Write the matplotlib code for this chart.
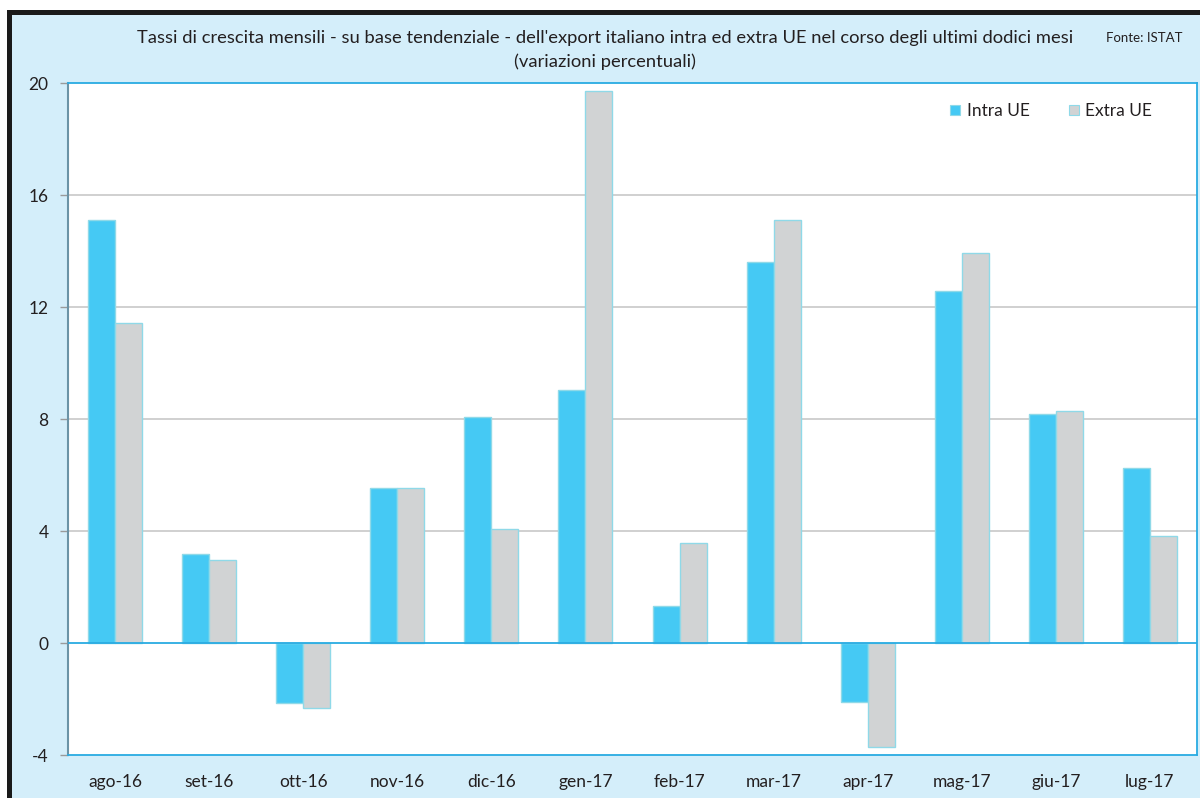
import matplotlib
matplotlib.use("Agg")
import matplotlib.pyplot as plt
from matplotlib.patches import Rectangle
from matplotlib.lines import Line2D
import numpy as np

categories = ["ago-16", "set-16", "ott-16", "nov-16", "dic-16", "gen-17",
              "feb-17", "mar-17", "apr-17", "mag-17", "giu-17", "lug-17"]
intra_ue = [15.1, 3.17, -2.15, 5.54, 8.07, 9.02, 1.32, 13.61, -2.1, 12.58, 8.17, 6.24]
extra_ue = [11.43, 2.95, -2.32, 5.54, 4.08, 19.71, 3.58, 15.1, -3.7, 13.92, 8.27, 3.82]
yticks = [-4, 0, 4, 8, 12, 16, 20]

FONT = "Lato"
BG = "#d4eefa"
C_INTRA = "#45c9f4"
C_EXTRA = "#d1d3d4"
EDGE = "#8fd9e8"
BLUE = "#29abe2"

W, H = 1200, 798
fig = plt.figure(figsize=(W / 100, H / 100), dpi=100)
fig.patch.set_facecolor("white")

# light blue panel and black frame
fig.add_artist(Rectangle((7 / W, 0), 1 - 7 / W, 1 - 10 / H, transform=fig.transFigure,
                         facecolor=BG, edgecolor="none", zorder=0))
fig.add_artist(Rectangle((7 / W, 1 - 15 / H), 1 - 7 / W, 5 / H, transform=fig.transFigure,
                         facecolor="#1a1a1a", edgecolor="none", zorder=1))
fig.add_artist(Rectangle((7 / W, 0), 5 / W, 1 - 10 / H, transform=fig.transFigure,
                         facecolor="#1a1a1a", edgecolor="none", zorder=1))

ax_l, ax_r, ax_t, ax_b = 68, 1197, 83, 755
ax = fig.add_axes([ax_l / W, 1 - ax_b / H, (ax_r - ax_l) / W, (ax_b - ax_t) / H])
ax.set_facecolor("white")

x = np.arange(len(categories))
bw = 0.287
ax.bar(x - bw / 2, intra_ue, bw, color=C_INTRA, edgecolor=EDGE, linewidth=1, zorder=3)
ax.bar(x + bw / 2, extra_ue, bw, color=C_EXTRA, edgecolor=EDGE, linewidth=1, zorder=3)

ax.set_xlim(-0.5, len(categories) - 0.5)
ax.set_ylim(-4, 20)
ax.set_yticks(yticks)
ax.set_yticklabels([str(v) for v in yticks], fontfamily=FONT, fontsize=12.5, color="#231f20")
ax.set_xticks(x)
ax.set_xticklabels(categories, fontfamily=FONT, fontsize=12.5, color="#231f20")
ax.tick_params(axis="x", length=0, pad=14)
ax.tick_params(axis="y", length=6, color="#9a9a9a", width=1, pad=8)

for v in yticks:
    if v in (4, 8, 12, 16):
        ax.axhline(v, color="#c8c8c8", linewidth=1.2, zorder=1)
ax.axhline(0, color=BLUE, linewidth=1.3, zorder=4)

for side in ("top", "bottom", "right"):
    ax.spines[side].set_color(BLUE)
    ax.spines[side].set_linewidth(1.3)
ax.spines["left"].set_color("#6b93a6")
ax.spines["left"].set_linewidth(1.5)

handles = [
    Line2D([], [], linestyle="", marker="s", markersize=7, markerfacecolor=C_INTRA,
           markeredgecolor=EDGE, markeredgewidth=0.8),
    Line2D([], [], linestyle="", marker="s", markersize=7, markerfacecolor=C_EXTRA,
           markeredgecolor=EDGE, markeredgewidth=0.8),
]
leg = ax.legend(handles, ["Intra UE", "Extra UE"], loc="upper right",
                bbox_to_anchor=(0.974, 0.993), ncol=2, frameon=False,
                prop={"family": FONT, "size": 12.5}, handlelength=0.7,
                handletextpad=0.3, columnspacing=2.2)
for t in leg.get_texts():
    t.set_color("#231f20")

fig.text(605 / W, 1 - 38 / H,
         "Tassi di crescita mensili - su base tendenziale - dell'export italiano intra ed extra UE nel corso degli ultimi dodici mesi",
         ha="center", va="center", fontfamily=FONT, fontsize=13.2, color="#231f20")
fig.text(605 / W, 1 - 61.5 / H, "(variazioni percentuali)", ha="center", va="center",
         fontfamily=FONT, fontsize=13.2, color="#231f20")
fig.text(1144 / W, 1 - 38 / H, "Fonte: ISTAT", ha="center", va="center",
         fontfamily=FONT, fontsize=9.5, color="#231f20")

fig.savefig("out.png", dpi=100, facecolor=fig.get_facecolor())
